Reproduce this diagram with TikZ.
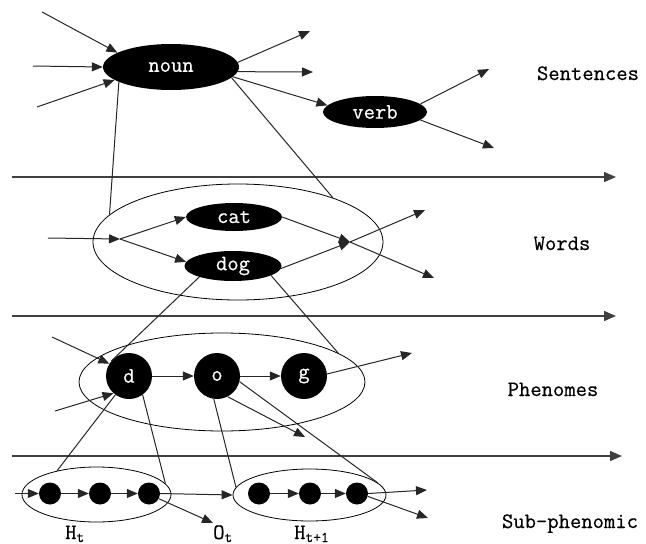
\documentclass[tikz,border=0pt]{standalone}
\usepackage{fontspec}
\setmonofont[FakeBold=0.5]{Latin Modern Mono}
\usetikzlibrary{arrows.meta,shapes.geometric}
\newcommand{\sbs}[1]{\raisebox{-3pt}{\fontsize{15}{15}\selectfont #1}}
\begin{document}
\begin{tikzpicture}[x=1pt,y=-1pt,
  font=\ttfamily\fontsize{22}{22}\selectfont,
  blk/.style={ellipse,fill=black,text=white,inner sep=0pt},
  grp/.style={ellipse,draw=black,line width=0.8pt,inner sep=0pt},
  big/.style={circle,fill=black,text=white,minimum size=46pt,inner sep=0pt},
  dot/.style={circle,fill=black,minimum size=22pt,inner sep=0pt},
  arr/.style={draw=black!85,line width=1pt,-{Triangle[length=11pt,width=9pt]}},
  link/.style={draw=black!85,line width=1pt},
  axis/.style={draw=black!75,line width=1.4pt,-{Triangle[length=12pt,width=10pt]}},
  lbl/.style={anchor=base,inner sep=0pt}]
\useasboundingbox (0,0) rectangle (646,544);

% group ellipses
\node[grp,minimum width=290pt,minimum height=116pt] (words) at (238,242) {};
\node[grp,minimum width=286pt,minimum height=98pt] (phen) at (222,382) {};
\node[grp,minimum width=149pt,minimum height=55pt] (ht) at (96.5,494.5) {};
\node[grp,minimum width=153pt,minimum height=52pt] (htn) at (309.5,495) {};

% filled nodes
\node[blk,minimum width=136pt,minimum height=46pt] (noun) at (171,67) {noun};
\node[blk,minimum width=104pt,minimum height=32pt] (verb) at (375,112) {verb};
\node[blk,minimum width=96pt,minimum height=28pt] (cat) at (234,217) {cat};
\node[blk,minimum width=97pt,minimum height=30pt] (dog) at (233,266) {dog};
\node[big] (d) at (129,376) {d};
\node[big] (o) at (217,376) {o};
\node[big] (g) at (304,376) {g};
\node[dot] (a1) at (50,493.5) {};
\node[dot] (a2) at (100,493.5) {};
\node[dot] (a3) at (149,493.5) {};
\node[dot] (b1) at (259,493.5) {};
\node[dot] (b2) at (310,493.5) {};
\node[dot] (b3) at (357,493.5) {};

% labels
\node[lbl] (lsen) at (588,80) {Sentences};
\node[lbl] (lwor) at (562,250) {Words};
\node[lbl] (lphe) at (553,396) {Phenomes};
\node[lbl] (lsub) at (570,528) {Sub-phenomic};
\node[lbl,anchor=base west] (lht) at (65,539) {H\sbs{t}};
\node[lbl,anchor=base west] (lot) at (213,539) {O\sbs{t}};
\node[lbl,anchor=base west] (lhtn) at (294,539) {H\sbs{t+1}};

% free ends
\coordinate (sin1) at (42,12);
\coordinate (sin2) at (33,66);
\coordinate (sin3) at (37,107);
\coordinate (nout1) at (310,31);
\coordinate (nout2) at (313,72);
\coordinate (vout1) at (489,69);
\coordinate (vout2) at (494,148);
\coordinate (win) at (48,238);
\coordinate (j1) at (120,239);
\coordinate (j2) at (350,242);
\coordinate (wout1) at (425,210);
\coordinate (wout2) at (434,278);
\coordinate (pin1) at (52,337);
\coordinate (pin2) at (55,411);
\coordinate (gout) at (412,353);
\coordinate (oout) at (305,437);
\coordinate (hin) at (15,493.5);
\coordinate (otip) at (213,523);
\coordinate (bout1) at (427,490);
\coordinate (bout2) at (428,518);
\coordinate (h1a) at (12,177);
\coordinate (h1b) at (616,177);
\coordinate (h2a) at (12,316);
\coordinate (h2b) at (616,316);
\coordinate (h3a) at (12,456);
\coordinate (h3b) at (622,456);

% axes
\draw[axis] (h1a) -- (h1b);
\draw[axis] (h2a) -- (h2b);
\draw[axis] (h3a) -- (h3b);

% sentences level
\draw[arr] (sin1) -- (noun.165);
\draw[arr] (sin2) -- (noun.west);
\draw[arr] (sin3) -- (noun.193);
\draw[arr] (noun.4) -- (nout1);
\draw[arr] (noun.-4) -- (nout2);
\draw[arr] (noun.-9) -- (verb.172);
\draw[arr] (verb.10) -- (vout1);
\draw[arr] (verb.-10) -- (vout2);
\draw[link] (noun.196) -- (words.168);
\draw[link] (noun.-10) -- (words.25);

% words level
\draw[arr] (win) -- (j1);
\draw[arr] (j1) -- (cat.west);
\draw[arr] (j1) -- (dog.175);
\draw[arr] (cat.east) -- (j2);
\draw[arr] (dog.-3) -- (j2);
\draw[arr] (j2) -- (wout1);
\draw[arr] (j2) -- (wout2);
\draw[link] (dog.198) -- (d.140);
\draw[link] (dog.-14) -- (phen.14);

% phenomes level
\draw[arr] (pin1) -- (d.148);
\draw[arr] (pin2) -- (d.228);
\draw[arr] (d) -- (o);
\draw[arr] (o) -- (g);
\draw[arr] (g.5) -- (gout);
\draw[arr] (o.-63) -- (oout);
\draw[link] (d.234) -- (ht.149.5);
\draw[link] (d.-54) -- (ht.9.5);
\draw[link] (o.262) -- (htn.174);
\draw[link] (o.-14) -- (htn.10);

% sub-phenomic level
\draw[arr] (hin) -- (a1);
\draw[arr] (a1) -- (a2);
\draw[arr] (a2) -- (a3);
\draw[arr] (a3.east) -- (htn.west);
\draw[arr] (a3.-28) -- (otip);
\draw[arr] (b1) -- (b2);
\draw[arr] (b2) -- (b3);
\draw[arr] (b3.east) -- (bout1);
\draw[arr] (b3.-15) -- (bout2);
\end{tikzpicture}
\end{document}
